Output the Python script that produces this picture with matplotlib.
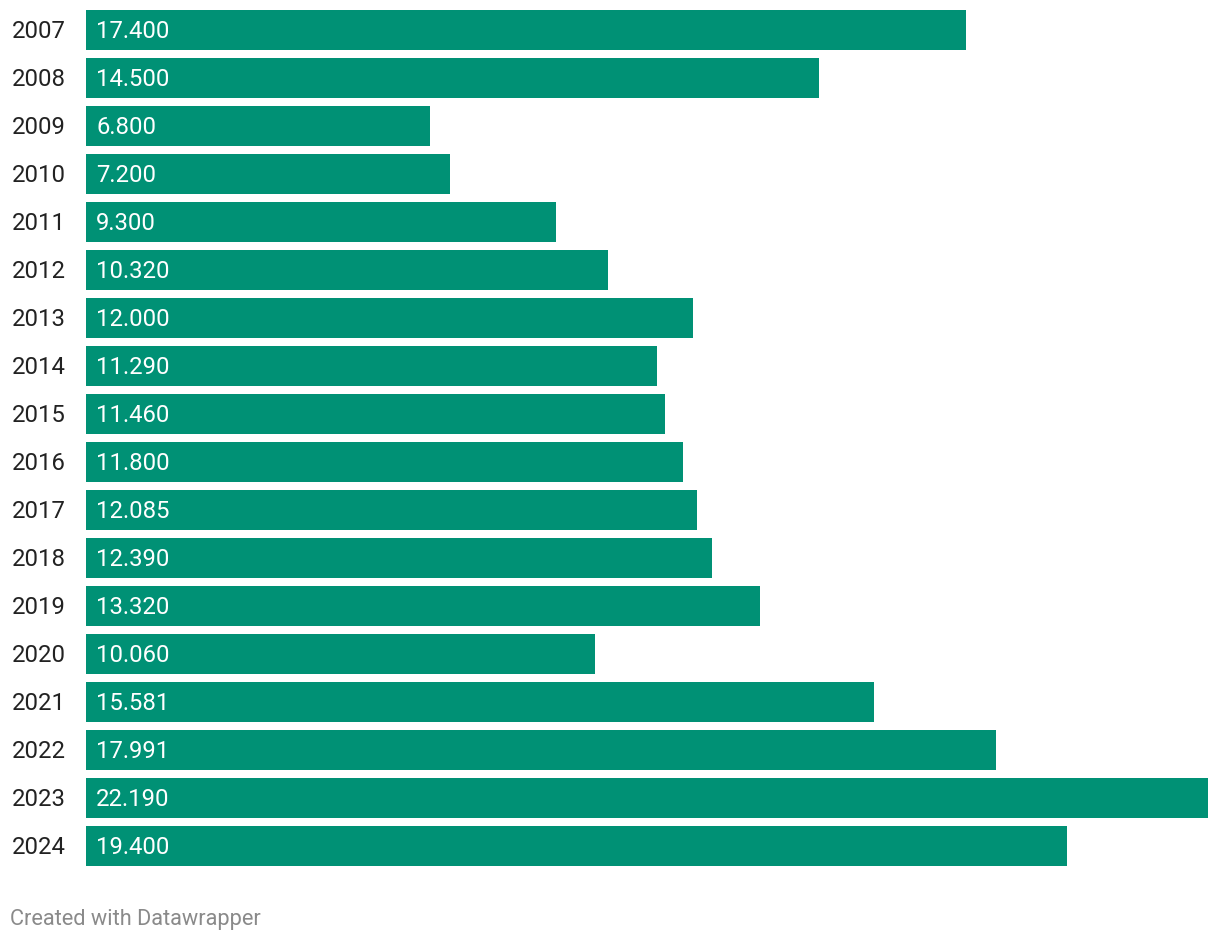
import matplotlib
matplotlib.use('Agg')
import matplotlib.pyplot as plt

plt.rcParams['font.family'] = ['Roboto', 'DejaVu Sans']

years = ['2007', '2008', '2009', '2010', '2011', '2012', '2013', '2014', '2015',
         '2016', '2017', '2018', '2019', '2020', '2021', '2022', '2023', '2024']
values = [17.400, 14.500, 6.800, 7.200, 9.300, 10.320, 12.000, 11.290, 11.460,
          11.800, 12.085, 12.390, 13.320, 10.060, 15.581, 17.991, 22.190, 19.400]
labels = ['17.400', '14.500', '6.800', '7.200', '9.300', '10.320', '12.000', '11.290', '11.460',
          '11.800', '12.085', '12.390', '13.320', '10.060', '15.581', '17.991', '22.190', '19.400']

W, H = 1220, 942
fig = plt.figure(figsize=(W / 100, H / 100), dpi=100)
ax = fig.add_axes([86 / W, 1 - 870 / H, (1208 - 86) / W, 864 / H])

pos = list(range(len(years)))
ax.barh(pos, values, height=40 / 48, color='#009175', linewidth=0)
ax.set_xlim(0, max(values))
ax.set_ylim(len(years) - 0.5, -0.5)
ax.axis('off')

px = 1 / 50.56  # data units per pixel horizontally
dy = 2 / 48     # small downward shift of labels
for p, yr, lab in zip(pos, years, labels):
    ax.text(-74 * px, p + dy, yr, ha='left', va='center', fontsize=17.2, color='#222222')
    ax.text(10 * px, p + dy, lab, ha='left', va='center', fontsize=17.2, color='white')

fig.text(10 / W, 1 - 919 / H, 'Created with Datawrapper', ha='left', va='center',
         fontsize=15.7, color='#8a8a8a')

fig.savefig('out.png', dpi=100)
